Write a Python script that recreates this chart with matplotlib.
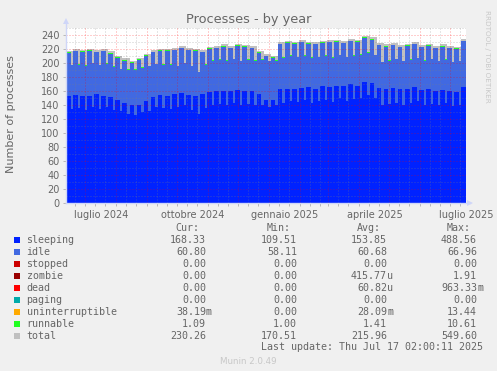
import matplotlib
matplotlib.use("Agg")
import matplotlib.pyplot as plt
from matplotlib.patches import Rectangle
import numpy as np
import pandas as pd

W, H, DPI = 497, 371, 100

# ---- data (weekly levels: plateau "hi" and weekly dip "lo") ----
sleep_hi = [153,155,154,153,156,154,152,148,144,141,140,146,152,155,154,156,157,
            155,153,156,159,160,161,160,162,161,160,156,148,147,163,164,163,165,
            166,164,167,166,168,167,170,168,173,172,165,164,165,163,164,166,162,
            163,161,162,160,159,166]
sleep_lo = [135,136,133,137,135,138,134,132,128,126,130,132,138,136,135,137,140,
            134,128,136,140,142,141,143,140,142,141,140,138,140,144,146,145,147,
            144,146,148,145,150,146,149,151,155,150,140,142,144,140,143,146,141,
            142,140,143,139,141,152]
idle_hi = [62,62,62,65,60,63,62,60,60,60,65,65,64,63,63,63,65,64,65,60,62,62,63,
           62,63,62,62,59,62,61,64,65,65,65,62,63,62,64,63,62,62,63,63,62,61,60,
           61,60,61,61,61,62,61,62,62,62,66]
idle_lo = [62,62,63,63,62,61,61,60,63,64,64,64,61,62,62,59,60,62,59,62,64,63,63,
           63,63,63,63,65,65,64,64,64,64,64,64,63,62,63,62,63,62,61,60,62,62,62,
           62,63,62,61,63,64,63,62,63,62,63]
total_wk = [218,220,219,221,219,220,217,211,207,204,208,214,219,221,220,222,225,
            222,221,219,224,225,227,225,228,226,225,218,213,211,230,232,231,233,
            231,230,232,233,234,232,235,234,239,237,229,227,229,226,228,230,226,
            228,225,227,225,224,235]
runnable_wk = [0.5,0.5,1.5,0.5,0.5,1.2,0.5,0.5,0.5,1.5,0.5,0.5,0.5,0.5,1.5,0.5,
               0.5,0.5,0.5,0.5,1.2,0.5,0.5,0.5,0.5,1.5,0.5,0.5,0.5,0.5,0.5,1.5,
               0.5,0.5,0.5,0.5,1.2,0.5,0.5,0.5,0.5,1.5,1.5,0.5,0.5,0.5,0.5,0.5,
               1.5,0.5,0.5,0.5,0.5,1.2,0.5,0.5,0.5]

t_start = pd.Timestamp("2024-06-12 02:00")
t_end = pd.Timestamp("2025-07-17 02:00")

label_months = ["2024-07-01", "2024-10-01", "2025-01-01", "2025-04-01", "2025-07-01"]
label_texts = ["luglio 2024", "ottobre 2024", "gennaio 2025", "aprile 2025", "luglio 2025"]

legend_names = ["sleeping", "idle", "stopped", "zombie", "dead", "paging",
                "uninterruptible", "runnable", "total"]
legend_colors = ["#0022FF", "#4169E1", "#CC0000", "#990000", "#FF0000",
                 "#00AAAA", "#FFAA00", "#22FF22", "#C0C0C0"]
cur_vals = ["168.33", "60.80", "0.00", "0.00", "0.00", "0.00", "38.19m", "1.09", "230.26"]
min_vals = ["109.51", "58.11", "0.00", "0.00", "0.00", "0.00", "0.00", "1.00", "170.51"]
avg_vals = ["153.85", "60.68", "0.00", "415.77u", "60.82u", "0.00", "28.09m", "1.41", "215.96"]
max_vals = ["488.56", "66.96", "0.00", "1.91", "963.33m", "0.00", "13.44", "10.61", "549.60"]


def weekly(hi, lo):
    out = []
    for h, l in zip(hi, lo):
        out += [h, h, l]
    return np.array(out, float)


sleeping = weekly(sleep_hi, sleep_lo)
idle = weekly(idle_hi, idle_lo)
total = weekly(total_wk, total_wk)
runnable = weekly(runnable_wk, runnable_wk)
dates = pd.date_range(t_start, t_end, periods=len(sleeping))

FONT = "#666666"
AXIS = "#CFD6F8"

fig = plt.figure(figsize=(W / DPI, H / DPI), dpi=DPI, facecolor="#F0F0F0")
ax = fig.add_axes([66 / W, 1 - 203.3 / H, 400 / W, 175 / H])
ax.set_facecolor("white")

ax.fill_between(dates, 0, total, step="post", color="#C0C0C0", lw=0, zorder=1)
ax.fill_between(dates, 0, sleeping, step="post", color="#0022FF", lw=0, zorder=2)
ax.fill_between(dates, sleeping, sleeping + idle, step="post", color="#4169E1", lw=0, zorder=2)
ax.fill_between(dates, sleeping + idle, sleeping + idle + runnable, step="post",
                color="#22FF22", lw=0, zorder=2)

ax.set_xlim(t_start, t_end)
ax.set_ylim(0, 250)

# grid
dash = (0, (1, 2))
for v in range(10, 251, 10):
    col = (1, 0, 0, 0.38) if v % 20 == 0 else (0.5, 0.5, 0.5, 0.4)
    ax.axhline(v, color=col, lw=0.72, ls=dash, zorder=3)
month_starts = pd.date_range("2024-07-01", "2025-07-01", freq="MS")
minor_days = [d for d in pd.date_range("2024-06-01", "2025-07-31", freq="D")
              if d.day in (11, 21) and t_start < d < t_end]
for d in minor_days:
    ax.axvline(d, color=(0.5, 0.5, 0.5, 0.4), lw=0.72, ls=dash, zorder=3)
for d in month_starts:
    ax.axvline(d, color=(1, 0, 0, 0.38), lw=0.72, ls=dash, zorder=3)

# ticks
lab_pos = [pd.Timestamp(m) + pd.Timedelta(days=16) for m in label_months]
ax.set_xticks(lab_pos)
ax.set_xticklabels(label_texts)
ax.tick_params(axis="x", length=0, pad=4.5, labelsize=7, labelcolor=FONT)
ax.set_xticks(list(month_starts) + minor_days, minor=True)
ax.tick_params(axis="x", which="minor", length=2, width=0.7, color=(0.5, 0.5, 0.5, 0.5))
for t, d in zip(ax.xaxis.get_minor_ticks(), list(month_starts) + minor_days):
    if d in list(month_starts):
        t.tick1line.set_color((1, 0, 0, 0.5))
ax.set_yticks(range(0, 241, 20))
ax.tick_params(axis="y", length=2, width=0.7, pad=2.5, labelsize=7, labelcolor=FONT,
               color=(0.5, 0.5, 0.5, 0.5))
for lab in ax.get_xticklabels() + ax.get_yticklabels():
    lab.set_family("DejaVu Sans")

for s in ["top", "right", "left", "bottom"]:
    ax.spines[s].set_visible(False)
# axes lines and arrows
ax.plot([0, 1.01], [0, 0], transform=ax.transAxes, color=AXIS, lw=1, clip_on=False, zorder=5)
ax.plot([0, 0], [0, 1.03], transform=ax.transAxes, color=AXIS, lw=1, clip_on=False, zorder=5)
ax.plot([1.01], [0], transform=ax.transAxes, marker=">", ms=4, color=AXIS,
        clip_on=False, zorder=5, mew=0)
ax.plot([0], [1.04], transform=ax.transAxes, marker="^", ms=4, color=AXIS,
        clip_on=False, zorder=5, mew=0)


def fx(px):
    return px / W


def fy(py):
    return 1 - py / H


fig.text(fx(248.7), fy(19.3), "Processes - by year", ha="center", va="center",
         fontsize=9.3, color=FONT, family="DejaVu Sans")
fig.text(fx(11.5), fy(114), "Number of processes", ha="center", va="center",
         rotation=90, fontsize=8, color=FONT, family="DejaVu Sans")
fig.text(fx(487), fy(56), "RRDTOOL / TOBI OETIKER", ha="center", va="center",
         rotation=270, fontsize=5.2, color="#C8C8C8", family="DejaVu Sans")

# legend table
MONO = "DejaVu Sans Mono"
LS = 7.2
headers = [("Cur:", 199), ("Min:", 290), ("Avg:", 380), ("Max:", 470)]
for txt, xr in headers:
    fig.text(fx(xr + 0.5), fy(227.7), txt, ha="right", va="center", fontsize=LS,
             color=FONT, family=MONO)
row_y0, row_dy = 240, 11.97
col_right = [206, 297, 387, 477]
for i, name in enumerate(legend_names):
    y = row_y0 + i * row_dy
    fig.patches.append(Rectangle((fx(14), fy(y + 3)), 6 / W, 6 / H,
                                 transform=fig.transFigure, color=legend_colors[i],
                                 lw=0))
    fig.text(fx(26.5), fy(y), name, ha="left", va="center", fontsize=LS,
             color=FONT, family=MONO)
    for vals, xr in zip([cur_vals, min_vals, avg_vals, max_vals], col_right):
        v = vals[i]
        num, unit = (v[:-1], v[-1]) if v[-1].isalpha() else (v, "")
        fig.text(fx(xr), fy(y), num, ha="right", va="center", fontsize=LS,
                 color=FONT, family=MONO)
        if unit:
            fig.text(fx(xr), fy(y), unit, ha="left", va="center", fontsize=LS,
                     color=FONT, family=MONO)

fig.text(fx(261), fy(347.3), "Last update: Thu Jul 17 02:00:11 2025", ha="left",
         va="center", fontsize=LS, color=FONT, family=MONO)
fig.text(fx(248.5), fy(361), "Munin 2.0.49", ha="center", va="center",
         fontsize=6.3, color="#C8C8C8", family="DejaVu Sans")

fig.savefig("out.png", dpi=DPI, facecolor=fig.get_facecolor())
